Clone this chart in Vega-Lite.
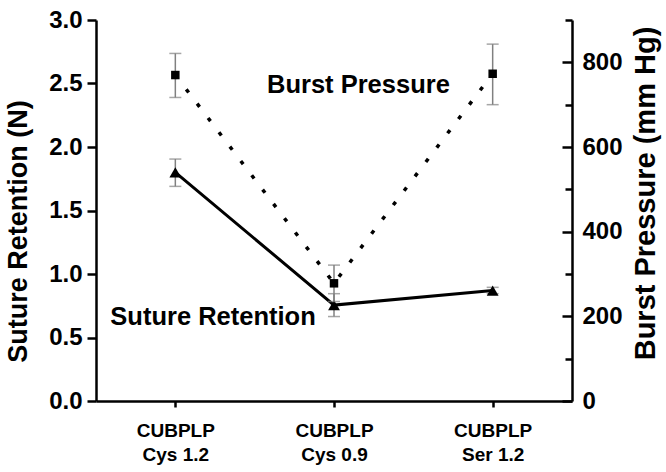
{
  "$schema": "https://vega.github.io/schema/vega-lite/v6.json",
  "width": 476,
  "height": 381,
  "autosize": {"type": "none"},
  "padding": {"left": 96, "top": 20, "right": 94, "bottom": 71},
  "config": {
    "view": {"stroke": null},
    "font": "Liberation Sans",
    "axis": {
      "domainColor": "black", "domainWidth": 2.5, "tickColor": "black", "tickWidth": 2.5,
      "labelFont": "Liberation Sans", "labelFontWeight": "bold", "labelColor": "black",
      "titleFont": "Liberation Sans", "titleFontWeight": "bold", "titleColor": "black", "grid": false
    }
  },
  "data": {
    "values": [
      {"cond": "CUBPLP|Cys 1.2", "sr": 1.8, "sr_lo": 1.69, "sr_hi": 1.905, "bp": 770, "bp_lo": 717, "bp_hi": 821},
      {"cond": "CUBPLP|Cys 0.9", "sr": 0.755, "sr_lo": 0.665, "sr_hi": 0.845, "bp": 278, "bp_lo": 235, "bp_hi": 321},
      {"cond": "CUBPLP|Ser 1.2", "sr": 0.87, "sr_lo": 0.845, "sr_hi": 0.895, "bp": 773, "bp_lo": 700, "bp_hi": 843}
    ]
  },
  "encoding": {
    "x": {
      "field": "cond", "type": "ordinal", "sort": ["CUBPLP|Cys 1.2", "CUBPLP|Cys 0.9", "CUBPLP|Ser 1.2"],
      "scale": {"type": "point", "padding": 0.5},
      "axis": {
        "title": null, "labelExpr": "split(datum.label, '|')", "labelAngle": 0,
        "labelFontSize": 19, "labelLineHeight": 24, "labelBaseline": "top", "labelPadding": 14,
        "tickSize": 6, "domainWidth": 2.5
      }
    }
  },
  "layer": [
    {
      "layer": [
        {
          "mark": {"type": "rule", "color": "#808080", "strokeWidth": 1.5},
          "encoding": {
            "y": {"field": "sr_lo", "type": "quantitative", "title": "Suture Retention (N)",
              "scale": {"domain": [0, 3], "nice": false, "zero": true},
              "axis": {
                "orient": "left",
                "values": [0, 0.25, 0.5, 0.75, 1, 1.25, 1.5, 1.75, 2, 2.25, 2.5, 2.75, 3],
                "labelExpr": "datum.value % 0.5 == 0 ? format(datum.value, '.1f') : ''",
                "tickSize": {"condition": {"test": "datum.value % 0.5 == 0", "value": 9}, "value": 5},
                "labelFontSize": 24, "labelPadding": 5,
                "titleFontSize": 27, "titleX": -78, "titleY": 211, "titleAngle": 270,
                "titleAlign": "center", "titleBaseline": "middle"
              }
            },
            "y2": {"field": "sr_hi"}
          }
        },
        {
          "mark": {"type": "tick", "color": "#808080", "thickness": 1.5, "size": 12},
          "encoding": {"y": {"field": "sr_lo", "type": "quantitative", "title": "Suture Retention (N)"}}
        },
        {
          "mark": {"type": "tick", "color": "#808080", "thickness": 1.5, "size": 12},
          "encoding": {"y": {"field": "sr_hi", "type": "quantitative", "title": "Suture Retention (N)"}}
        },
        {
          "mark": {"type": "line", "color": "black", "strokeWidth": 3},
          "encoding": {"y": {"field": "sr", "type": "quantitative", "title": "Suture Retention (N)"}}
        },
        {
          "mark": {"type": "point", "shape": "triangle-up", "filled": true, "color": "black", "size": 140, "opacity": 1},
          "encoding": {"y": {"field": "sr", "type": "quantitative", "title": "Suture Retention (N)"}}
        },
        {
          "data": {"values": [{"cond": "CUBPLP|Cys 1.2", "v": 0.598, "label": "Suture Retention"}]},
          "mark": {"type": "text", "align": "left", "baseline": "alphabetic", "dx": -65, "fontSize": 25.5, "fontWeight": "bold", "font": "Liberation Sans", "color": "black"},
          "encoding": {
            "y": {"field": "v", "type": "quantitative", "title": "Suture Retention (N)"},
            "text": {"field": "label"}
          }
        }
      ]
    },
    {
      "layer": [
        {
          "mark": {"type": "rule", "color": "#808080", "strokeWidth": 1.5},
          "encoding": {
            "y": {"field": "bp_lo", "type": "quantitative", "title": "Burst Pressure (mm Hg)",
              "scale": {"domain": [0, 900], "nice": false, "zero": true},
              "axis": {
                "orient": "right",
                "values": [0, 100, 200, 300, 400, 500, 600, 700, 800, 900],
                "labelExpr": "datum.value % 200 == 0 ? datum.label : ''",
                "tickSize": {"condition": {"test": "datum.value % 200 == 0", "value": -10}, "value": -7},
                "labelFontSize": 24, "labelPadding": 20,
                "titleFontSize": 29, "titleX": 73, "titleY": 173, "titleAngle": 270,
                "titleAlign": "center", "titleBaseline": "middle"
              }
            },
            "y2": {"field": "bp_hi"}
          }
        },
        {
          "mark": {"type": "tick", "color": "#808080", "thickness": 1.5, "size": 12},
          "encoding": {"y": {"field": "bp_lo", "type": "quantitative", "title": "Burst Pressure (mm Hg)"}}
        },
        {
          "mark": {"type": "tick", "color": "#808080", "thickness": 1.5, "size": 12},
          "encoding": {"y": {"field": "bp_hi", "type": "quantitative", "title": "Burst Pressure (mm Hg)"}}
        },
        {
          "mark": {"type": "line", "color": "black", "strokeWidth": 3.5, "strokeDash": [4, 14]},
          "encoding": {"y": {"field": "bp", "type": "quantitative", "title": "Burst Pressure (mm Hg)"}}
        },
        {
          "mark": {"type": "point", "shape": "square", "filled": true, "color": "black", "size": 72, "opacity": 1},
          "encoding": {"y": {"field": "bp", "type": "quantitative", "title": "Burst Pressure (mm Hg)"}}
        },
        {
          "data": {"values": [{"cond": "CUBPLP|Cys 0.9", "v": 727, "label": "Burst Pressure"}]},
          "mark": {"type": "text", "align": "left", "baseline": "alphabetic", "dx": -67, "fontSize": 25.5, "fontWeight": "bold", "font": "Liberation Sans", "color": "black"},
          "encoding": {
            "y": {"field": "v", "type": "quantitative", "title": "Burst Pressure (mm Hg)"},
            "text": {"field": "label"}
          }
        }
      ]
    }
  ],
  "resolve": {"scale": {"y": "independent"}, "axis": {"y": "independent"}}
}
